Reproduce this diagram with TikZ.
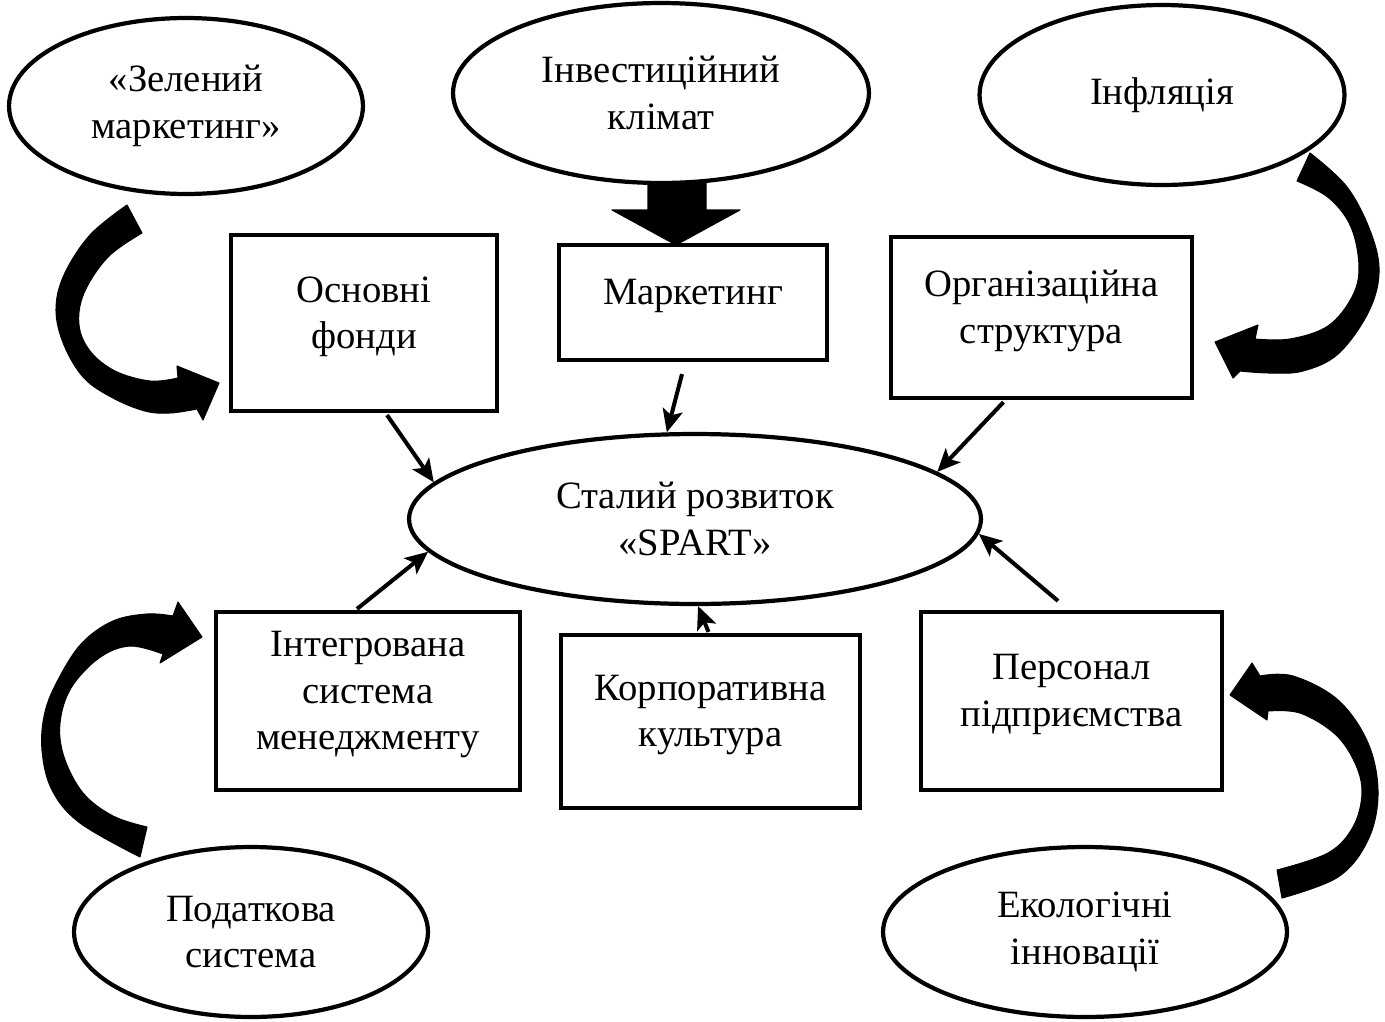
\documentclass[tikz,border=0pt]{standalone}
\usepackage{fontspec}
\setmainfont{Liberation Serif}
\usetikzlibrary{shapes.geometric,arrows.meta,calc}
\begin{document}
\begin{tikzpicture}[x=0.02cm,y=-0.02cm,
  every node/.style={font=\fontsize{22}{26.5}\selectfont, align=center, inner sep=0pt},
  oval/.style={ellipse, draw, line width=2.4pt},
  box/.style={rectangle, draw, line width=2.4pt},
  boxtext/.style={yshift=3.6pt},
  link/.style={line width=2.3pt, -{Stealth[length=13pt,width=11.5pt,inset=3pt]}},
  bigarrow/.style={fill=black, draw=black, line join=round, line width=0.6pt}]
\useasboundingbox (0,0) rectangle (1385,1021);

% ellipses
\node[oval, minimum width=7.08cm, minimum height=3.52cm] (zel) at (186,106) {«Зелений\\маркетинг»};
\node[oval, minimum width=8.32cm, minimum height=3.6cm] (inv) at (661,93) {Інвестиційний\\клімат};
\node[oval, minimum width=7.3cm, minimum height=3.6cm] (inf) at (1162,95) {Інфляція};
\node[oval, minimum width=11.44cm, minimum height=3.4cm] (spart) at (695,519) {Сталий розвиток\\«SPART»};
\node[oval, minimum width=7.08cm, minimum height=3.4cm] (pod) at (251,932) {Податкова\\система};
\node[oval, minimum width=8.08cm, minimum height=3.4cm] (eco) at (1085,932) {Екологічні\\інновації};

% boxes
\node[box, minimum width=5.32cm, minimum height=3.52cm] (osn) at (364,323) {};
\node[box, minimum width=5.36cm, minimum height=2.3cm] (mar) at (693,302.5) {};
\node[box, minimum width=6.02cm, minimum height=3.22cm] (org) at (1041.5,317.5) {};
\node[box, minimum width=6.08cm, minimum height=3.56cm] (int) at (368,701) {};
\node[box, minimum width=5.98cm, minimum height=3.46cm] (korp) at (710.5,721.5) {};
\node[box, minimum width=6.02cm, minimum height=3.56cm] (pers) at (1071.5,701) {};
\node[boxtext] (osnT) at (osn.center) {Основні\\фонди};
\node[boxtext] (marT) at (mar.center) {Маркетинг};
\node[boxtext] (orgT) at (org.center) {Організаційна\\структура};
\node[boxtext] (intT) at (int.center) {Інтегрована\\система\\менеджменту};
\node[boxtext] (korpT) at (korp.center) {Корпоративна\\культура};
\node[boxtext] (persT) at (pers.center) {Персонал\\підприємства};

% thin connectors
\draw[link] ($(osn.south)+(23,2)$) -- (spart.172);
\draw[link] ($(mar.south)+(-11,12)$) -- (spart.108);
\draw[link] ($(org.south)+(-38,2)$) -- (spart.11);
\draw[link] ($(int.north)+(-11,-1)$) -- (spart.187);
\draw[link] ($(korp.north)+(-2,-1)$) -- (spart.272);
\draw[link] ($(pers.north)+(-13.5,-9)$) -- (spart.357);

% big down arrow from inv to mar
\fill[bigarrow] (648,182) -- (706,182) -- (706,210) -- (740,210) -- (676,245) -- (612,210) -- (648,210) -- cycle;

% curved arrow: zel -> osn
\fill[bigarrow] plot[smooth,tension=0.6] coordinates {(127,205) (90,235) (64,275) (56,310) (64,345) (84,378) (113,398) (145,411) (170,413) (197,409)}
  -- (203,420) -- (219,383) -- (177,366) -- (178,378)
  -- plot[smooth,tension=0.6] coordinates {(178,378) (150,381) (115,371) (90,351) (79,325) (84,293) (108,257) (142,233)} -- cycle;

% curved arrow: inf -> org
\fill[bigarrow] plot[smooth,tension=0.6] coordinates {(1310,153) (1347,187) (1371,233) (1379,273) (1368,313) (1338,354) (1303,371) (1270,373) (1240,371)}
  -- (1233,378) -- (1215,342) -- (1258,325) -- (1255,339)
  -- plot[smooth,tension=0.6] coordinates {(1255,339) (1290,339) (1328,326) (1352,297) (1359,267) (1351,227) (1329,198) (1297,181)} -- cycle;

% curved arrow: pod -> int
\fill[bigarrow] plot[smooth,tension=0.6] coordinates {(140,857) (80,823) (52,790) (42,750) (45,712) (59,678) (82,643) (113,621) (147,614) (173,616)}
  -- (178,602) -- (202,637) -- (160,663) -- (163,654)
  -- plot[smooth,tension=0.6] coordinates {(163,654) (130,646) (99,658) (71,688) (60,723) (64,757) (83,793) (113,816) (147,827)} -- cycle;

% curved arrow: eco -> pers
\fill[bigarrow] plot[smooth,tension=0.6] coordinates {(1282,898) (1338,877) (1368,840) (1378,793) (1368,743) (1338,700) (1293,676) (1260,676)}
  -- (1252,663) -- (1230,695) -- (1267,720) -- (1268,711)
  -- plot[smooth,tension=0.6] coordinates {(1268,711) (1300,713) (1335,734) (1355,763) (1362,793) (1353,827) (1328,853) (1277,870)} -- cycle;
\end{tikzpicture}
\end{document}
